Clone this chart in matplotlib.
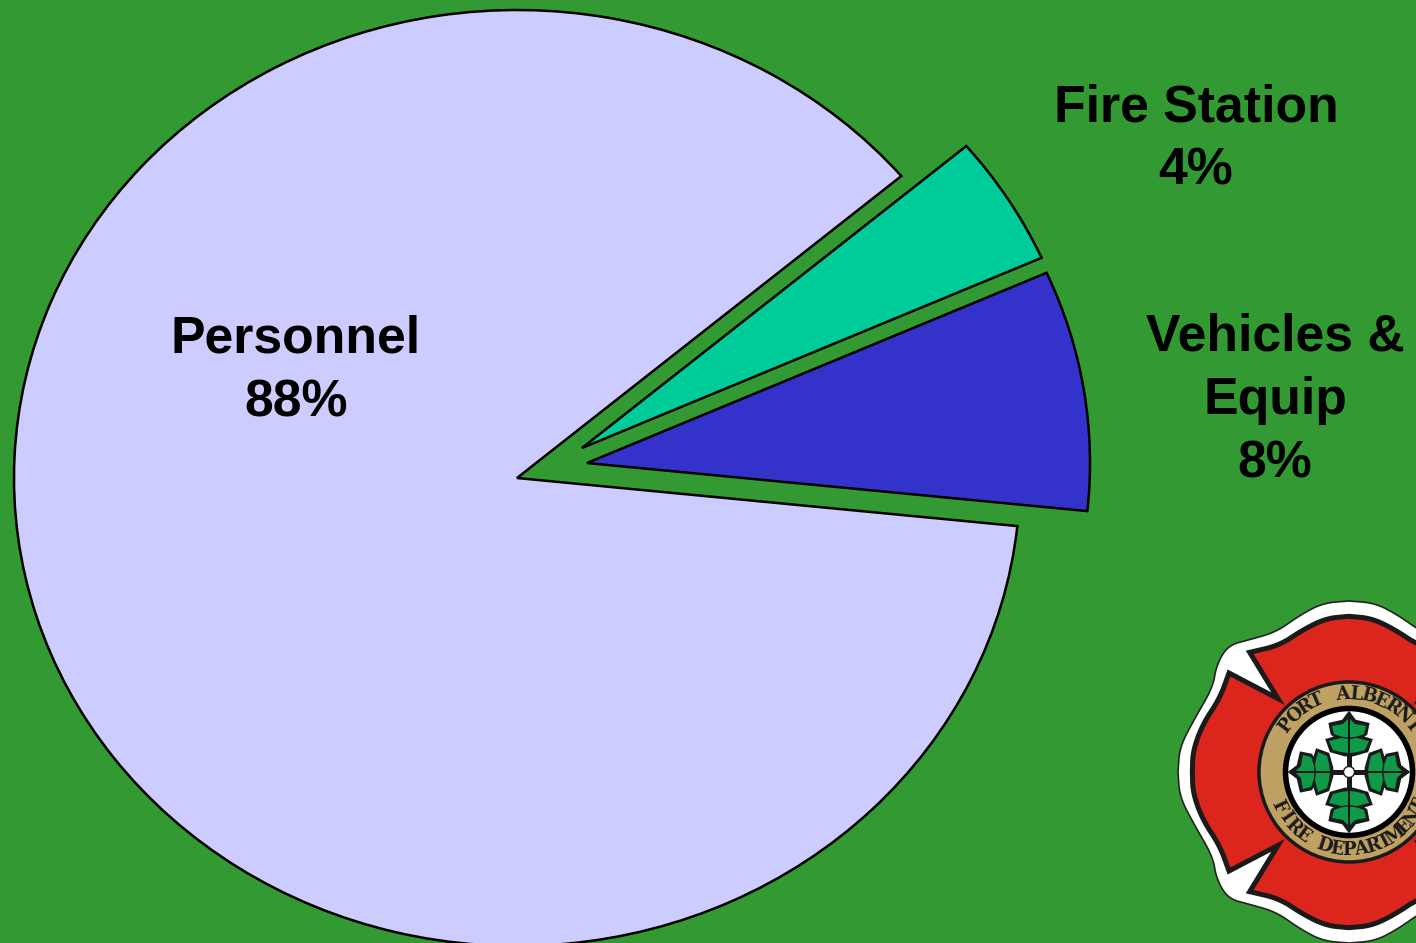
import matplotlib
matplotlib.use("Agg")
import matplotlib.pyplot as plt
import numpy as np
from matplotlib.patches import Circle, Polygon

categories = ["Vehicles &\nEquip", "Fire Station", "Personnel"]
percent_labels = ["8%", "4%", "88%"]
# slice sizes as measured on the picture, the printed labels are rounded
values = [8.3, 4.5, 87.2]
colors = ["#3333CC", "#00CC99", "#CCCCFF"]
label_pos = [(1275, 400.5), (1196, 139.5), (296, 371)]
# how far each slice is pulled out, in pixels right and up
pull_px = [(70, 15), (65, 30), (0, 0)]

GREEN = "#339933"
W, H = 1416, 943
CX, CY, RX, RY = 517, 478, 503, 468
LOGO_X, LOGO_Y = 1349, 772


def smooth(pts, n=3):
    # corner cutting, keeps both end points
    pts = np.array(pts, dtype=float)
    for _ in range(n):
        q = pts[:-1] * 0.75 + pts[1:] * 0.25
        r = pts[:-1] * 0.25 + pts[1:] * 0.75
        mid = np.empty((len(q) * 2, 2))
        mid[0::2] = q
        mid[1::2] = r
        pts = np.vstack([pts[:1], mid, pts[-1:]])
    return pts


def zoomed(pts):
    return [((x - 548) / 3, (y - 545) / 3) for x, y in pts]


def four_way(quarter):
    # quarter runs from the top of the cross to the left, mirror it round
    q = np.array(quarter)
    left_low = q[::-1] * [1, -1]
    right_low = q * [-1, -1]
    right_up = q[::-1] * [-1, 1]
    return np.vstack([q, left_low, right_low, right_up])


def rotate(pts, deg):
    a = np.radians(deg)
    c, s = np.cos(a), np.sin(a)
    pts = np.array(pts, dtype=float)
    return np.column_stack([pts[:, 0] * c - pts[:, 1] * s, pts[:, 0] * s + pts[:, 1] * c])


def curved_text(ax, text, radius, start, end, bottom=False):
    for ch, ang in zip(text, np.linspace(start, end, len(text))):
        a = np.radians(ang)
        x = LOGO_X + radius * np.sin(a)
        if bottom:
            y = LOGO_Y + radius * np.cos(a)
            rot = ang
        else:
            y = LOGO_Y - radius * np.cos(a)
            rot = -ang
        ax.text(x, y, ch, ha="center", va="center", rotation=rot, rotation_mode="anchor",
                family="DejaVu Serif", weight="bold", fontsize=13, color="#1a1a1a", zorder=9)


def draw_logo(ax):
    white_q = smooth(zoomed([(548, 32), (470, 38), (400, 75), (330, 125), (250, 148), (185, 165), (150, 225),
                             (140, 290), (85, 385), (40, 470), (35, 545)]))
    ax.add_patch(Polygon(four_way(white_q) + [LOGO_X, LOGO_Y], closed=True, fc="white", ec="#222222", lw=1.2, zorder=5))

    top = smooth(zoomed([(548, 78), (480, 84), (410, 118), (340, 165), (250, 186)]))
    notch = np.array(zoomed([(335, 325), (188, 248)]))
    side = smooth(zoomed([(188, 248), (160, 325), (110, 400), (80, 480), (78, 545)]))
    red_q = np.vstack([top, notch, side[1:]])
    ax.add_patch(Polygon(four_way(red_q) + [LOGO_X, LOGO_Y], closed=True, fc="#DC251C", ec="#1a1a1a", lw=3.6,
                         joinstyle="miter", zorder=6))

    ax.add_patch(Circle((LOGO_X, LOGO_Y), 90, fc="#BFA163", ec="#1a1a1a", lw=2.5, zorder=7))
    ax.add_patch(Circle((LOGO_X, LOGO_Y), 63.5, fc="white", ec="black", lw=4, zorder=8))

    curved_text(ax, "PORT ALBERNI", 78, -53, 53)
    curved_text(ax, "FIRE DEPARTMENT", 78, -64, 64, bottom=True)

    silhouette = [(0, -59), (6, -51), (19, -48), (17, -38), (12, -35), (22, -32), (18, -21), (4, -17),
                  (-4, -17), (-18, -21), (-22, -32), (-12, -35), (-17, -38), (-19, -48), (-6, -51)]
    leaf_a = [(1, -53), (6, -48), (17, -46), (15, -38), (8, -35.5), (1, -34.5)]
    leaf_b = [(1, -33), (8, -34), (20, -31), (16, -22), (8, -20), (1, -19)]
    for deg in [0, 90, 180, 270]:
        ax.add_patch(Polygon(rotate(silhouette, deg) + [LOGO_X, LOGO_Y], closed=True, fc="#1a1a1a", ec="#1a1a1a",
                             lw=2, zorder=9))
        stem = rotate([(-2.5, -20), (2.5, -20), (2.5, 0), (-2.5, 0)], deg) + [LOGO_X, LOGO_Y]
        ax.add_patch(Polygon(stem, closed=True, fc="#1a1a1a", ec="none", zorder=9))
        for leaf in [leaf_a, leaf_b]:
            for sign in [1, -1]:
                pts = rotate(np.array(leaf) * [sign, 1], deg) + [LOGO_X, LOGO_Y]
                ax.add_patch(Polygon(pts, closed=True, fc="#0E9A48", ec="none", zorder=10))
    ax.add_patch(Circle((LOGO_X, LOGO_Y), 5.5, fc="white", ec="#1a1a1a", lw=1, zorder=11))


fig = plt.figure(figsize=(W / 100, H / 100), dpi=100, facecolor=GREEN)
ax = fig.add_axes([0, 0, 1, 1])
wedges, _ = ax.pie(values, colors=colors, startangle=-5.9, radius=1,
                   wedgeprops={"edgecolor": "black", "linewidth": 1.8, "joinstyle": "miter"})
for w, (dx, dy) in zip(wedges, pull_px):
    w.set_center((dx / RX, dy / RY))
ax.set_aspect("auto")
ax.set_xlim(-CX / RX, (W - CX) / RX)
ax.set_ylim(-(H - CY) / RY, CY / RY)

top = fig.add_axes([0, 0, 1, 1])
top.set_xlim(0, W)
top.set_ylim(H, 0)
top.axis("off")
top.patch.set_alpha(0)

for cat, pct, pos in zip(categories, percent_labels, label_pos):
    top.text(pos[0], pos[1], cat + "\n" + pct, ha="center", va="center", multialignment="center",
             family="Liberation Sans", weight="bold", fontsize=37.3, color="black", linespacing=1.37)

draw_logo(top)

fig.savefig("out.png", dpi=100, facecolor=GREEN)
